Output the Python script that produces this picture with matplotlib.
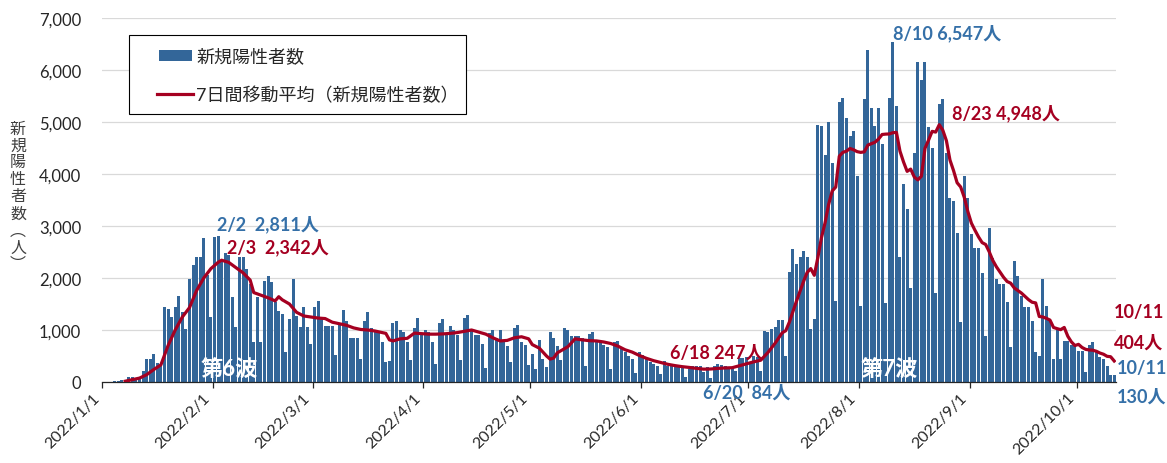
import datetime as dt
import numpy as np
import matplotlib
matplotlib.use("Agg")
import matplotlib.pyplot as plt
import matplotlib.dates as mdates
from matplotlib.patches import Rectangle
from matplotlib.lines import Line2D
from matplotlib.ticker import FuncFormatter

plt.rcParams['font.family'] = ['Lato', 'Noto Sans CJK JP']

BAR_BLUE = '#336699'
TXT_BLUE = '#3570a8'
RED = '#a50021'

# daily new cases, one list per month (2022/1/1 - 2022/10/11)
jan = [0, 0, 5, 10, 15, 30, 40, 100, 100, 50, 60, 210, 440, 440, 535, 370, 300, 1440, 1400, 1245,
       1440, 1660, 1340, 1020, 1990, 2245, 2400, 2400, 2770, 2050, 1250]
feb = [2780, 2811, 2330, 2490, 2450, 1630, 1050, 2400, 2400, 2170, 1885, 760, 1630, 760, 1950, 2045,
       1920, 1530, 1370, 1300, 570, 1210, 1980, 1275, 1050, 1435, 1050, 730]
mar = [1435, 1565, 1210, 1080, 1080, 1080, 510, 1115, 1390, 1175, 840, 840, 840, 435, 1175, 1340,
       1030, 970, 970, 770, 385, 400, 1130, 1180, 1000, 970, 770, 415, 1030, 1230, 935]
apr = [1000, 970, 770, 350, 1140, 1210, 935, 1085, 1000, 900, 415, 1230, 1280, 1000, 900, 900, 740,
       265, 935, 1000, 840, 1000, 805, 700, 385, 1030, 1100, 770, 710, 330]
may = [545, 250, 805, 450, 285, 970, 840, 700, 415, 1045, 1000, 890, 890, 880, 850, 315, 925, 955,
       765, 765, 720, 665, 250, 775, 795, 635, 570, 505, 450, 175, 570]
jun = [520, 440, 380, 345, 315, 155, 410, 315, 330, 300, 280, 260, 90, 250, 300, 315, 310, 200, 280,
       84, 315, 345, 330, 300, 280, 260, 220, 455, 455, 475]
jul = [345, 500, 480, 220, 985, 955, 1020, 1050, 1195, 1195, 505, 2120, 2550, 2265, 2395, 2520, 2395,
       1020, 1220, 4950, 4920, 4375, 5000, 4215, 1560, 5380, 5465, 5080, 4740, 4825, 3960]
aug = [1465, 5445, 6380, 5270, 4930, 5260, 4570, 1515, 5465, 6547, 5315, 2395, 3800, 3320, 1815,
       4410, 6150, 5815, 6150, 4900, 4500, 1720, 5355, 5445, 4410, 3545, 3480, 2870, 1145, 3960, 3545]
sep = [2840, 2585, 2585, 2105, 890, 2970, 2390, 1990, 1880, 1880, 1530, 665, 2330, 2040, 1655, 1435,
       1435, 1180, 570, 505, 1975, 1465, 1210, 440, 1015, 440, 795, 795, 710, 710]
oct_ = [600, 600, 185, 710, 760, 570, 475, 440, 315, 135, 130]

# 7-day moving average (days counted from 2022/1/1)
ma_day = [6, 8, 10, 12, 14, 16, 18, 20, 22, 24, 26, 28, 30, 32, 33, 35, 37, 39, 41, 42, 44, 46, 48,
          49, 50, 52, 54, 56, 58, 60, 62, 64, 66, 68, 70, 72, 74, 76, 78, 79, 80, 81, 83, 85, 87, 89,
          91, 93, 95, 97, 99, 101, 103, 105, 107, 109, 111, 113, 115, 117, 119, 120, 122, 124, 125,
          126, 127, 128, 130, 132, 134, 136, 138, 140, 142, 144, 146, 148, 150, 152, 154, 156, 158,
          160, 162, 164, 166, 168, 170, 172, 174, 176, 178, 180, 182, 184, 186, 188, 190, 191, 192,
          194, 196, 197, 198, 199, 200, 201, 202, 203, 204, 205, 206, 207, 208, 209, 210, 211, 212,
          213, 214, 215, 216, 217, 218, 219, 220, 221, 222, 223, 224, 225, 226, 227, 228, 229, 230,
          231, 232, 233, 234, 235, 236, 237, 238, 239, 240, 241, 242, 243, 244, 245, 246, 247, 248,
          249, 250, 251, 252, 253, 254, 255, 256, 257, 258, 259, 260, 261, 262, 263, 264, 265, 266,
          267, 268, 269, 270, 271, 272, 273, 274, 275, 276, 277, 278, 279, 280, 281, 282, 283]
ma_value = [15, 45, 75, 140, 240, 330, 700, 1000, 1250, 1430, 1760, 2000, 2180, 2300, 2342, 2300,
            2200, 2100, 1960, 1720, 1670, 1620, 1560, 1640, 1580, 1500, 1340, 1270, 1250, 1230, 1220,
            1150, 1120, 1090, 1040, 1010, 1000, 980, 950, 935, 810, 790, 830, 840, 940, 930, 920, 920,
            925, 935, 950, 975, 1000, 960, 920, 850, 790, 800, 850, 870, 830, 720, 650, 500, 440, 460,
            560, 600, 680, 830, 810, 795, 790, 770, 740, 690, 620, 575, 510, 455, 410, 375, 340, 315,
            295, 280, 262, 247, 250, 262, 270, 275, 313, 350, 387, 419, 566, 744, 946, 986, 1149, 1554,
            1936, 2107, 2181, 2052, 2395, 2774, 3057, 3411, 3671, 3749, 4343, 4416, 4439, 4491, 4466,
            4430, 4416, 4426, 4556, 4584, 4611, 4673, 4760, 4767, 4770, 4794, 4800, 4438, 4230, 4051,
            4094, 3943, 3886, 3958, 4494, 4651, 4820, 4806, 4948, 4841, 4640, 4268, 4065, 3832, 3750,
            3551, 3279, 3055, 2918, 2790, 2681, 2644, 2503, 2338, 2216, 2116, 2015, 1933, 1901, 1809,
            1759, 1711, 1648, 1584, 1534, 1521, 1260, 1251, 1224, 1191, 1049, 1026, 1007, 1049, 880,
            772, 701, 724, 664, 628, 616, 611, 591, 557, 534, 494, 486, 404]

month_labels = ["2022/1/1", "2022/2/1", "2022/3/1", "2022/4/1", "2022/5/1",
                "2022/6/1", "2022/7/1", "2022/8/1", "2022/9/1", "2022/10/1"]

start = dt.date(2022, 1, 1)
cases = jan + feb + mar + apr + may + jun + jul + aug + sep + oct_
dates = [start + dt.timedelta(days=i) for i in range(len(cases))]
x0 = mdates.date2num(start)
bar_x = mdates.date2num(dates) + 0.5          # bars sit between the day ticks
ma_day = np.array(ma_day)
ma_value = np.array(ma_value)
ma_x = x0 + ma_day + 0.5
month_x = [mdates.date2num(dt.datetime.strptime(s, "%Y/%m/%d")) for s in month_labels]

fig = plt.figure(figsize=(11.67, 4.64), dpi=100)
ax = fig.add_axes([102 / 1167, 81 / 464, 1014 / 1167, 364 / 464])

ax.bar(bar_x, cases, width=0.84, color=BAR_BLUE, zorder=2)
ax.plot(ma_x, ma_value, color=RED, lw=2.3, zorder=3, solid_joinstyle='round')

ax.set_xlim(x0, x0 + len(cases))
ax.set_ylim(0, 7000)
ax.set_yticks(range(0, 7001, 1000))
ax.yaxis.set_major_formatter(FuncFormatter(lambda v, p: f"{int(v):,}"))
ax.grid(axis='y', color='#d9d9d9', lw=0.9)
ax.set_axisbelow(True)
for s in ['top', 'right', 'left']:
    ax.spines[s].set_visible(False)
ax.spines['bottom'].set_color('#262626')
ax.spines['bottom'].set_linewidth(0.9)
ax.tick_params(axis='y', length=0, pad=15, labelsize=12, labelcolor='#262626')
ax.set_xticks(month_x)
ax.set_xticklabels(month_labels, rotation=45, ha='right', va='top')
ax.tick_params(axis='x', length=4, width=0.9, color='#262626', direction='out', pad=2,
               labelsize=11.5, labelcolor='#262626')

# y axis title, written vertically
fig.text(18 / 1167, 1 - 197 / 464, "\n".join("新規陽性者数︵人︶"), ha='center', va='center',
         fontsize=11.5, linespacing=1.0, color='#404040', family='Noto Sans CJK JP')

# legend box
ax.add_patch(Rectangle((0.0266, 0.7363), 0.3324, 0.2170, transform=ax.transAxes,
                       facecolor='white', edgecolor='black', lw=0.8, zorder=5))
ax.add_patch(Rectangle((0.0562, 0.8819), 0.0326, 0.0302, transform=ax.transAxes,
                       facecolor=BAR_BLUE, edgecolor='none', zorder=6))
ax.add_line(Line2D([0.0542, 0.0897], [0.7912, 0.7912], transform=ax.transAxes,
                   color=RED, lw=2.3, zorder=6))
ax.text(0.0927, 0.8956, "新規陽性者数", transform=ax.transAxes, va='center', fontsize=13,
        color='#262626', zorder=6)
ax.text(0.0927, 0.7912, "7日間移動平均（新規陽性者数）", transform=ax.transAxes, va='center',
        fontsize=13, color='#262626', zorder=6)


def label(val, xpos, text, color, dx, dy, ha='left'):
    ax.annotate(text, xy=(xpos, val), xytext=(dx, dy), textcoords='offset points',
                ha=ha, va='center', fontsize=13, fontweight='bold', color=color, zorder=7)


def md(day):
    d = start + dt.timedelta(days=int(day))
    return f"{d.month}/{d.day}"


# sixth wave peaks
i6 = int(np.argmax(cases[:100]))
label(cases[i6], bar_x[i6], f"{md(i6)}  {cases[i6]:,}人", TXT_BLUE, -0.5, 9)
k6 = int(np.argmax(np.where(ma_day < 100, ma_value, 0)))
label(ma_value[k6], ma_x[k6], f"{md(ma_day[k6])}  {ma_value[k6]:,}人", RED, 3.7, 10.3)

# seventh wave peaks
i7 = int(np.argmax(cases))
label(cases[i7], bar_x[i7], f"{md(i7)} {cases[i7]:,}人", TXT_BLUE, 0, 6.8)
k7 = int(np.argmax(ma_value))
label(ma_value[k7], ma_x[k7], f"{md(ma_day[k7])} {ma_value[k7]:,}人", RED, 9, 8.9)

# summer trough
summer = (ma_day >= 151) & (ma_day <= 181)
kmin = int(np.argmin(np.where(summer, ma_value, 10 ** 6)))
label(ma_value[kmin], ma_x[kmin], f"{md(ma_day[kmin])} {ma_value[kmin]:,}人", RED, -24, 12.3)
imin = 151 + int(np.argmin(cases[151:181]))
label(cases[imin], bar_x[imin], f"{md(imin)}  {cases[imin]}人", TXT_BLUE, -5.3, -10.6)

# latest day
last = len(cases) - 1
label(ma_value[-1], ma_x[-1], md(last), RED, 0, 35.3)
label(ma_value[-1], ma_x[-1], f"{ma_value[-1]}人", RED, 0, 13.9)
label(cases[last], bar_x[last], md(last), TXT_BLUE, 2, 5.9)
label(cases[last], bar_x[last], f"{cases[last]}人", TXT_BLUE, 2, -15)

ax.text(0.1252, 0.0357, "第6波", transform=ax.transAxes, ha='center', va='center',
        fontsize=16, fontweight='bold', color='white', zorder=7)
ax.text(0.776, 0.0357, "第7波", transform=ax.transAxes, ha='center', va='center',
        fontsize=16, fontweight='bold', color='white', zorder=7)

fig.savefig("out.png", dpi=100)
